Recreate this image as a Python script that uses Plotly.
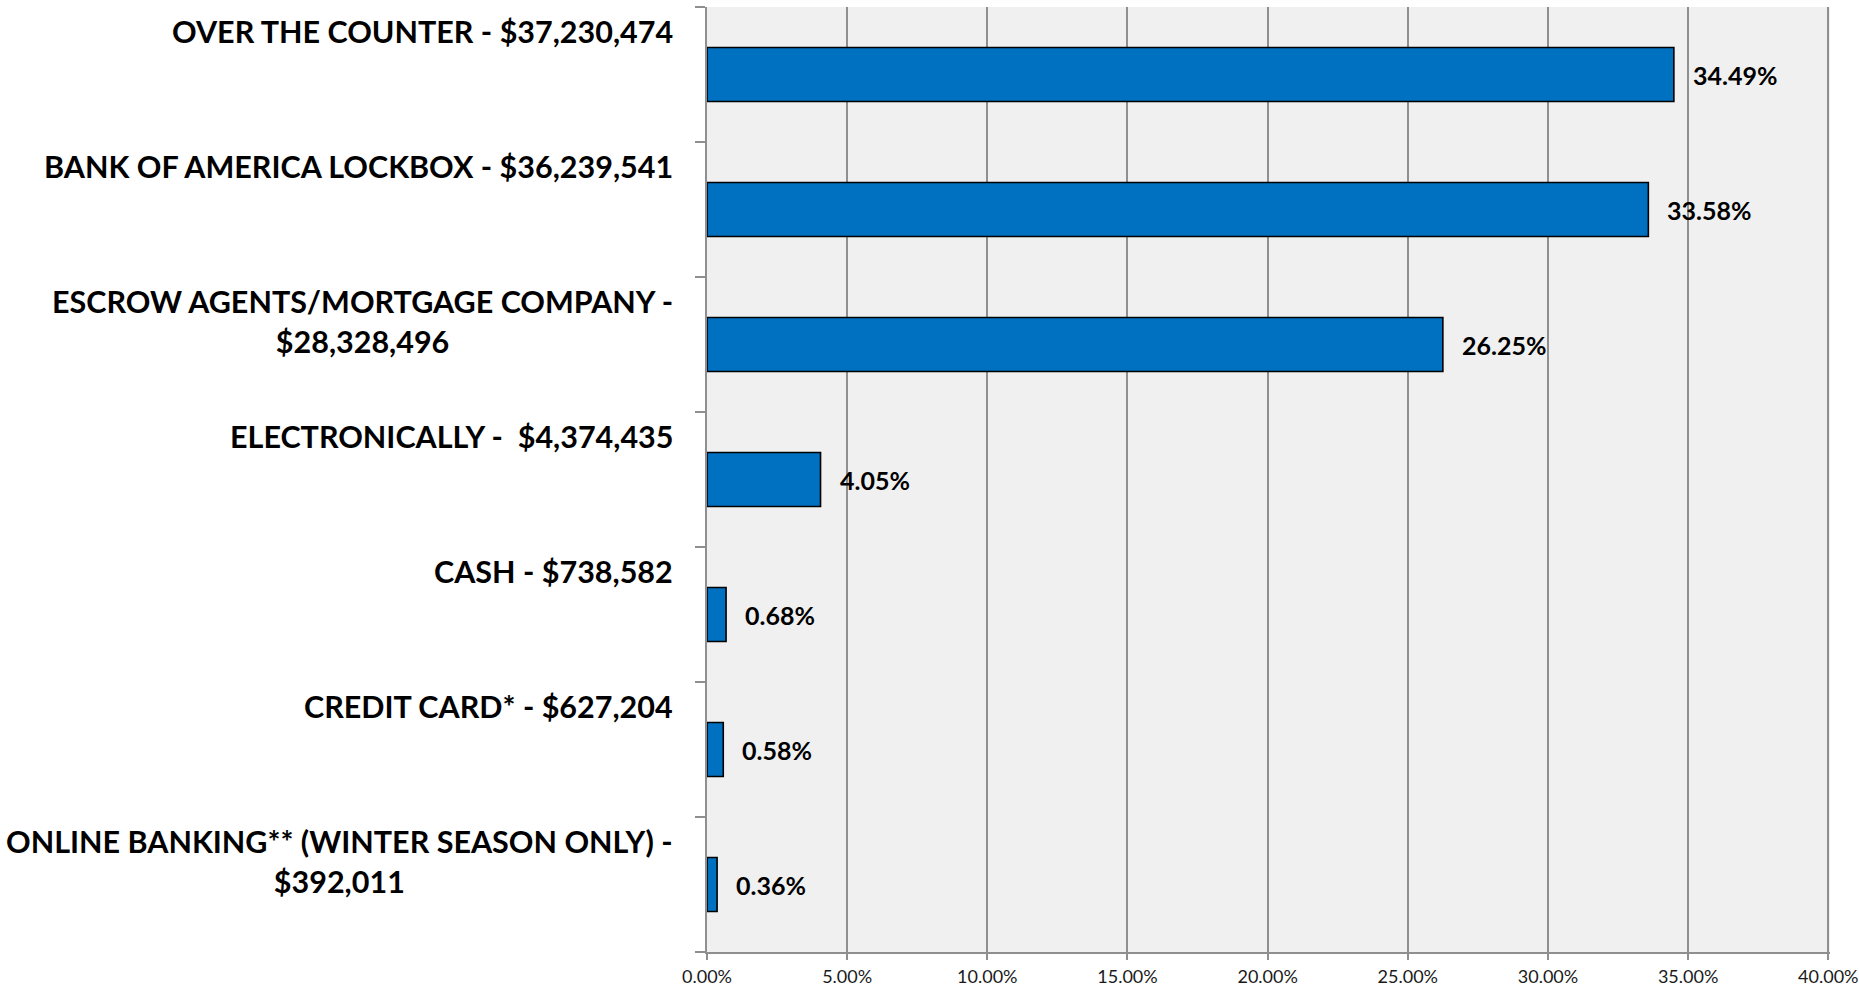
import plotly.graph_objects as go

categories = [
    "OVER THE COUNTER - $37,230,474",
    "BANK OF AMERICA LOCKBOX - $36,239,541",
    "ESCROW AGENTS/MORTGAGE COMPANY -<br>$28,328,496",
    "ELECTRONICALLY -  $4,374,435",
    "CASH - $738,582",
    "CREDIT CARD* - $627,204",
    "ONLINE BANKING** (WINTER SEASON ONLY) -<br>$392,011",
]
shares = [34.49, 33.58, 26.25, 4.05, 0.68, 0.58, 0.36]
tick_values = [0, 5, 10, 15, 20, 25, 30, 35, 40]
tick_labels = ["0.00%", "5.00%", "10.00%", "15.00%", "20.00%", "25.00%", "30.00%", "35.00%", "40.00%"]

positions = list(range(len(categories)))
grid_color = "#8f8f8f"
label_font = "Lato, 'Open Sans', sans-serif"

fig = go.Figure()
fig.add_trace(go.Bar(
    x=shares,
    y=positions,
    orientation="h",
    width=0.4,
    marker=dict(color="#0070C0", line=dict(color="#000000", width=1.6)),
    hoverinfo="skip",
))

annotations = []
for p, cat in zip(positions, categories):
    annotations.append(dict(
        x=0, xref="paper", xanchor="right", xshift=-32,
        y=p - 0.5, yref="y", yanchor="top", yshift=-4,
        text=cat, showarrow=False, align="center",
        font=dict(family=label_font, size=30.5, color="#000000", weight="bold"),
    ))
for p, v in zip(positions, shares):
    annotations.append(dict(
        x=v, xref="x", xanchor="left", xshift=17,
        y=p, yref="y", yanchor="middle",
        text=f"{v:.2f}%", showarrow=False,
        font=dict(family=label_font, size=25, color="#000000", weight="bold"),
    ))

fig.update_layout(
    width=1859, height=988,
    margin=dict(l=707, r=29, t=7, b=36, autoexpand=False),
    paper_bgcolor="#FFFFFF",
    plot_bgcolor="#F0F0F0",
    showlegend=False,
    annotations=annotations,
    bargap=0.6,
)
fig.update_xaxes(
    range=[0, 40.06],
    automargin=False,
    tickvals=tick_values, ticktext=tick_labels,
    showgrid=True, gridcolor=grid_color, gridwidth=2,
    showline=True, linecolor=grid_color, linewidth=2,
    ticks="outside", ticklen=6, tickwidth=2, tickcolor=grid_color,
    ticklabelstandoff=1, ticklabeloverflow="allow",
    tickfont=dict(family=label_font, size=18, color="#1a1a1a"),
    zeroline=False,
)
fig.update_yaxes(
    range=[len(categories) - 0.5, -0.5],
    automargin=False,
    tickvals=[i - 0.5 for i in range(len(categories) + 1)],
    ticktext=[""] * (len(categories) + 1),
    showgrid=False,
    showline=True, linecolor=grid_color, linewidth=2,
    ticks="outside", ticklen=10, tickwidth=2, tickcolor=grid_color,
    zeroline=False,
)

fig.write_html(
    "out.html",
    config={"displayModeBar": False},
    post_script="document.body.style.margin='0';document.body.style.overflow='hidden';",
)
